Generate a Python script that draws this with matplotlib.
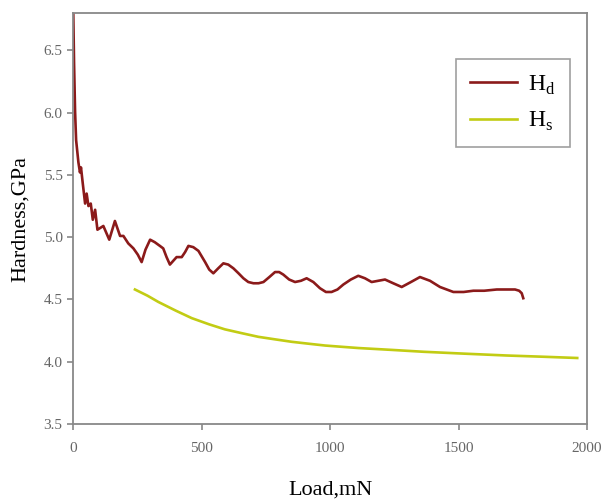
import matplotlib
matplotlib.use('Agg')
import matplotlib.pyplot as plt

plt.rcParams['font.family'] = 'Liberation Serif'
plt.rcParams['mathtext.fontset'] = 'custom'
plt.rcParams['mathtext.rm'] = 'Liberation Serif'

# Hd: dynamic hardness
load_d = [1, 4, 8, 12, 21, 27, 31, 38, 47, 53, 60, 69, 77, 86, 95, 118, 141, 163, 183,
          196, 215, 235, 252, 267, 282, 300, 318, 338, 351, 364, 377, 390, 403, 423, 436,
          449, 468, 488, 514, 530, 546, 565, 585, 604, 624, 644, 663, 682, 702, 722, 741,
          764, 786, 802, 818, 841, 864, 887, 909, 935, 961, 984, 1006, 1029, 1052, 1081,
          1110, 1136, 1162, 1188, 1214, 1246, 1279, 1315, 1350, 1389, 1428, 1454, 1480,
          1520, 1558, 1600, 1649, 1690, 1720, 1736, 1746, 1752]
hard_d = [6.8, 6.40, 6.01, 5.78, 5.60, 5.52, 5.56, 5.43, 5.27, 5.35, 5.25, 5.27, 5.14,
          5.22, 5.06, 5.09, 4.98, 5.13, 5.01, 5.01, 4.95, 4.91, 4.86, 4.80, 4.90, 4.98,
          4.96, 4.93, 4.91, 4.84, 4.78, 4.81, 4.84, 4.84, 4.88, 4.93, 4.92, 4.89, 4.80,
          4.74, 4.71, 4.75, 4.79, 4.78, 4.75, 4.71, 4.67, 4.64, 4.63, 4.63, 4.64, 4.68,
          4.72, 4.72, 4.70, 4.66, 4.64, 4.65, 4.67, 4.64, 4.59, 4.56, 4.56, 4.58, 4.62,
          4.66, 4.69, 4.67, 4.64, 4.65, 4.66, 4.63, 4.60, 4.64, 4.68, 4.65, 4.60, 4.58,
          4.56, 4.56, 4.57, 4.57, 4.58, 4.58, 4.58, 4.57, 4.55, 4.51]

# Hs: static hardness
load_s = [241, 290, 332, 400, 462, 530, 591, 655, 721, 785, 851, 915, 981, 1045, 1110,
          1240, 1363, 1520, 1687, 1830, 1962]
hard_s = [4.58, 4.53, 4.48, 4.41, 4.35, 4.30, 4.26, 4.23, 4.20, 4.18, 4.16, 4.145, 4.13,
          4.12, 4.11, 4.095, 4.08, 4.065, 4.05, 4.04, 4.03]

fig = plt.figure(figsize=[6.01, 5.0], dpi=100)
ax = fig.add_axes([0.1215, 0.152, 0.8552, 0.822])

ax.plot(load_d, hard_d, color='#8b1a1a', lw=1.9, label=r'H$_\mathrm{d}$')
ax.plot(load_s, hard_s, color='#c2cc14', lw=1.9, label=r'H$_\mathrm{s}$')

ax.set_xlim(0, 2000)
ax.set_ylim(3.5, 6.8)
ax.set_xticks([0, 500, 1000, 1500, 2000])
ax.set_yticks([3.5, 4.0, 4.5, 5.0, 5.5, 6.0, 6.5])
ax.set_yticklabels(['3.5', '4.0', '4.5', '5.0', '5.5', '6.0', '6.5'])

for s in ax.spines.values():
    s.set_color('#888888')
    s.set_linewidth(1.3)
ax.tick_params(axis='both', colors='#888888', labelcolor='#666666', labelsize=11,
               length=4, width=1.2)
ax.tick_params(axis='x', pad=9)

ax.set_xlabel('Load,mN', fontsize=16, labelpad=18)
ax.set_ylabel('Hardness,GPa', fontsize=16, labelpad=10)

leg = ax.legend(loc='upper right', bbox_to_anchor=(0.966, 0.887), fontsize=17,
                frameon=True, fancybox=False, handlelength=2.0, borderpad=0.6,
                labelspacing=0.55, handletextpad=0.45, borderaxespad=0)
leg.get_frame().set_edgecolor('#888888')
leg.get_frame().set_linewidth(1.2)

plt.savefig('out.png', dpi=100)
